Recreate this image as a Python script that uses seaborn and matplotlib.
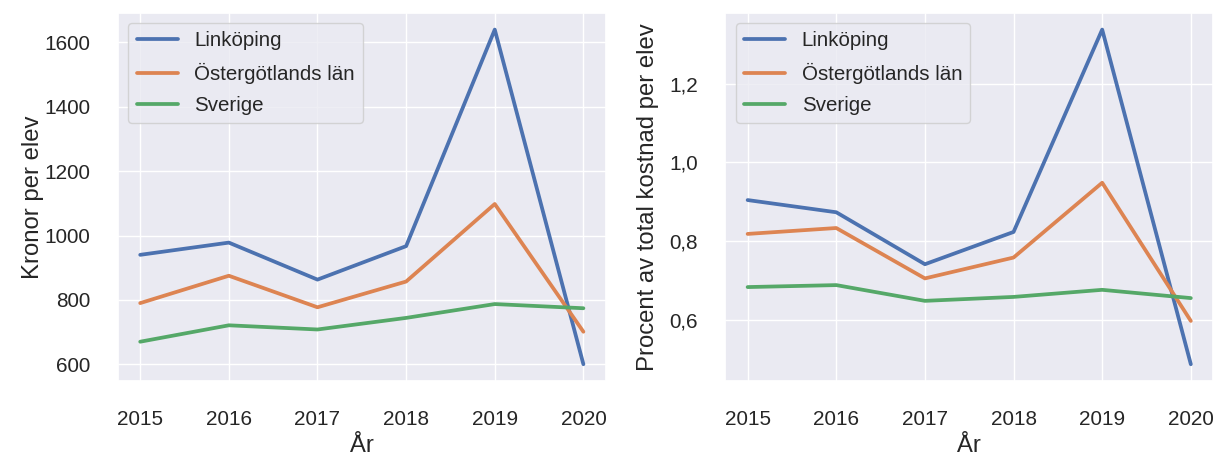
import pandas as pd
import matplotlib.pyplot as plt
import seaborn as sns
from matplotlib.ticker import FuncFormatter

years = [2015, 2016, 2017, 2018, 2019, 2020]
regions = ['Linköping', 'Östergötlands län', 'Sverige']

# kronor per elev
kr_linkoping = [940, 978, 863, 967, 1640, 600]
kr_ostergotland = [790, 875, 777, 857, 1098, 701]
kr_sverige = [670, 721, 708, 744, 787, 774]

# procent av total kostnad per elev
pct_linkoping = [0.904, 0.873, 0.741, 0.823, 1.337, 0.487]
pct_ostergotland = [0.818, 0.833, 0.705, 0.758, 0.948, 0.597]
pct_sverige = [0.683, 0.688, 0.648, 0.658, 0.676, 0.655]


def long_df(series):
    rows = []
    for name, vals in zip(regions, series):
        for y, v in zip(years, vals):
            rows.append({'År': y, 'value': v, 'region': name})
    return pd.DataFrame(rows)


kr_df = long_df([kr_linkoping, kr_ostergotland, kr_sverige])
pct_df = long_df([pct_linkoping, pct_ostergotland, pct_sverige])

sns.set_theme(style='darkgrid', font_scale=1.36)
plt.rcParams['font.family'] = ['Liberation Sans', 'DejaVu Sans']
label_size = 17.2

fig, (ax1, ax2) = plt.subplots(1, 2, figsize=(12.17, 4.59), dpi=100)
fig.subplots_adjust(left=0.097, right=0.9967, top=0.972, bottom=0.17, wspace=0.246)

sns.lineplot(data=kr_df, x='År', y='value', hue='region', ax=ax1, linewidth=2.7)
ax1.set_ylabel('Kronor per elev', labelpad=0, fontsize=label_size)
ax1.set_yticks([600, 800, 1000, 1200, 1400, 1600])

sns.lineplot(data=pct_df, x='År', y='value', hue='region', ax=ax2, linewidth=2.7)
ax2.set_ylabel('Procent av total kostnad per elev', labelpad=7, fontsize=label_size)
ax2.set_yticks([0.6, 0.8, 1.0, 1.2])
ax2.yaxis.set_major_formatter(FuncFormatter(lambda v, p: f'{v:.1f}'.replace('.', ',')))

for ax in (ax1, ax2):
    ax.set_xlabel('År', labelpad=4, fontsize=label_size)
    ax.set_xticks(years)
    ax.tick_params(axis='x', pad=15)
    ax.tick_params(axis='y', pad=14)
    ax.legend(title=None, loc='upper left', fontsize=14.8, labelspacing=0.6)

plt.savefig('out.png')
